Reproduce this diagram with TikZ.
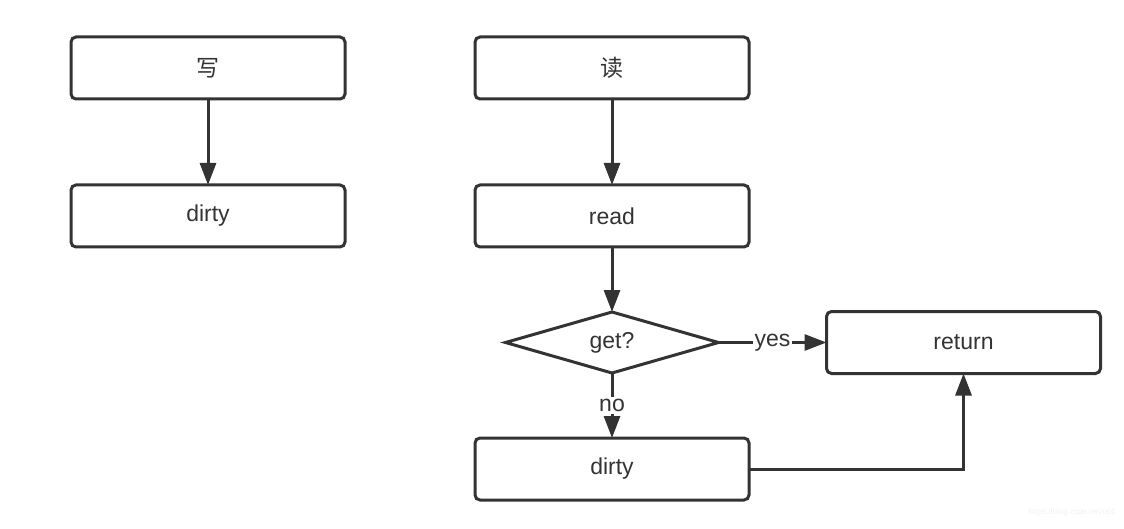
\documentclass[tikz,border=0pt]{standalone}
\usepackage{fontspec}
\setmainfont{Liberation Sans}
\newfontfamily\cjk{Noto Sans CJK SC}
\usetikzlibrary{arrows.meta,shapes.geometric,positioning}
\definecolor{linegray}{HTML}{333333}

\begin{document}
\begin{tikzpicture}[->,>={Triangle[length=11pt,width=8pt]},line width=1.5pt,draw=linegray,text=linegray,font=\fontsize{11.5pt}{13pt}\selectfont]
        \tikzstyle{box}=[draw=linegray,rounded corners=2.5pt,minimum width=137pt,minimum height=31pt,inner sep=0pt,outer sep=0pt]
        \tikzstyle{decide}=[draw=linegray,diamond,aspect=3.5,minimum width=106.5pt,minimum height=30.5pt,inner sep=0pt,outer sep=0pt]
        \tikzstyle{lbl}=[fill=white,inner sep=1pt,text=linegray]

        \useasboundingbox (0,0) rectangle (562pt,-264.5pt);

        \node[box]     (write)                              at (104pt,-34pt) {\cjk 写};
        \node[box]     (wdirty)  [below=43pt of write]      {dirty};
        \node[box]     (read)    [right=65pt of write]      {\cjk 读};
        \node[box]     (rread)   [below=43pt of read]       {read};
        \node[decide]  (get)     [below=32.5pt of rread]    {get?};
        \node[box]     (ret)     [right=54pt of get]        {return};
        \node[box]     (rdirty)  [below=32.5pt of get]      {dirty};

        \draw[linegray] (write)  -- (wdirty);
        \draw[linegray] (read)   -- (rread);
        \draw[linegray] (rread)  -- (get);
        \draw[linegray] (get)    -- node[lbl] {yes} (ret);
        \draw[linegray] (get)    -- node[lbl] {no}  (rdirty);
        \draw[linegray] (rdirty) -| (ret);

        \node[text=gray!12,font=\fontsize{4pt}{5pt}\selectfont,anchor=south east] (mark) at (562pt,-262pt) {https://blog.csdn.net/u01};
      \end{tikzpicture}
\end{document}
